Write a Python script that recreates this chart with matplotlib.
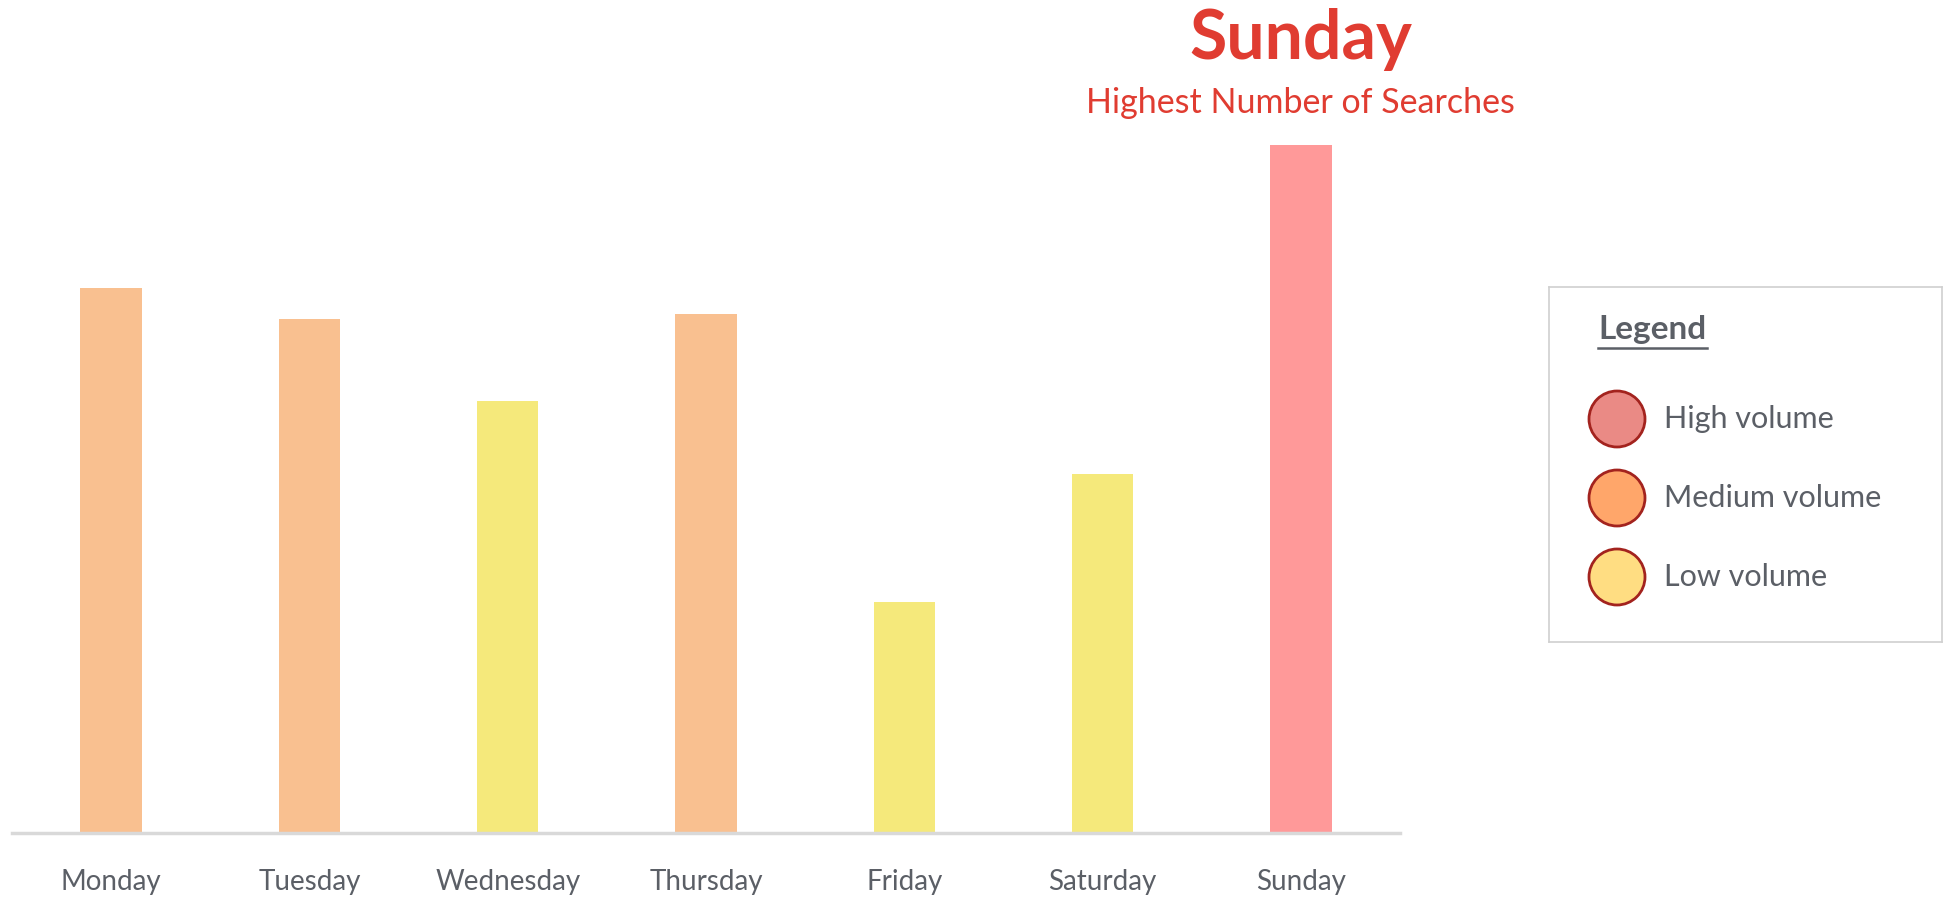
import numpy as np
import matplotlib
matplotlib.use("Agg")
import matplotlib.pyplot as plt
from matplotlib.patches import Circle

days = ["Monday", "Tuesday", "Wednesday", "Thursday", "Friday", "Saturday", "Sunday"]
searches = [79.2, 74.7, 62.8, 75.5, 33.6, 52.2, 100.0]
volume = ["medium", "medium", "low", "medium", "low", "low", "high"]

bar_colors = {"high": "#FF9999", "medium": "#F9C090", "low": "#F5E97B"}
legend_labels = ["High volume", "Medium volume", "Low volume"]
legend_fill = ["#EA8A85", "#FFA66A", "#FFDD82"]
grey = "#5B5F66"

plt.rcParams["font.family"] = ["Lato", "DejaVu Sans"]
W, H = 1946, 899
fig = plt.figure(figsize=(W / 100, H / 100), dpi=100)

ax = fig.add_axes([12 / W, 66 / H, 1388 / W, (833 - 145) / H])
x = np.arange(len(days))
ax.bar(x, searches, width=0.31, color=[bar_colors[v] for v in volume])
ax.set_xlim(-0.5, 6.5)
ax.set_ylim(0, 100)
for s in ["top", "right", "left"]:
    ax.spines[s].set_visible(False)
ax.spines["bottom"].set_color("#D9D9D9")
ax.spines["bottom"].set_linewidth(2.5)
ax.set_yticks([])
ax.set_xticks(x, days)
ax.tick_params(axis="x", length=0, pad=26, labelsize=20, labelcolor=grey)

top = int(np.argmax(searches))
ax.annotate(days[top], xy=(top, searches[top]), xytext=(0, 76), textcoords="offset points",
            ha="center", va="center", fontsize=49, fontweight="bold", color="#E03C31")
ax.annotate("Highest Number of Searches", xy=(top, searches[top]), xytext=(0, 30),
            textcoords="offset points", ha="center", va="center", fontsize=24.5, color="#E03C31")

# legend box drawn in pixel units so circles stay round
lw, lh = 393, 355
lg = fig.add_axes([1549 / W, (H - 642) / H, lw / W, lh / H])
lg.set_xlim(0, lw)
lg.set_ylim(lh, 0)
lg.set_xticks([])
lg.set_yticks([])
for s in lg.spines.values():
    s.set_color("#D0D0D0")
    s.set_linewidth(1.2)
lg.text(49, 42, "Legend", fontsize=24, fontweight="bold", color=grey, va="center", ha="left")
lg.plot([49, 158], [61, 61], color=grey, lw=1.8)
for i, (lab, fc) in enumerate(zip(legend_labels, legend_fill)):
    cy = 132 + 79 * i
    lg.add_patch(Circle((68, cy), 28, facecolor=fc, edgecolor="#A3231E", lw=2))
    lg.text(115, cy, lab, fontsize=22, color=grey, va="center", ha="left")

fig.savefig("out.png", dpi=100)
